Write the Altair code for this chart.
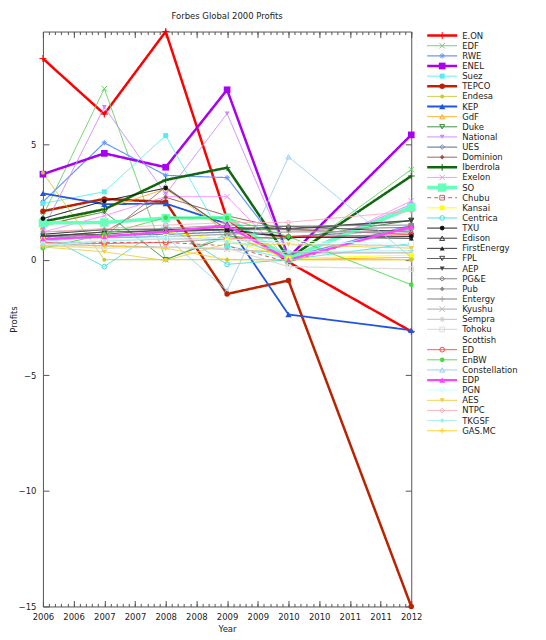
import altair as alt
import pandas as pd

years = [2006, 2007, 2008, 2009, 2010, 2012]

names = ["E.ON", "EDF", "RWE", "ENEL", "Suez", "TEPCO", "Endesa", "KEP", "GdF", "Duke",
         "National", "UES", "Dominion", "Iberdrola", "Exelon", "SO", "Chubu", "Kansai",
         "Centrica", "TXU", "Edison", "FirstEnergy", "FPL", "AEP", "PG&E", "Pub", "Entergy",
         "Kyushu", "Sempra", "Tohoku", "Scottish", "ED", "EnBW", "Constellation", "EDP",
         "PGN", "AES", "NTPC", "TKGSF", "GAS.MC"]

# profits per company, one value per year above
e_on = [8.7, 6.3, 9.87, 1.75, -0.1, -3.1]
edf = [1.9, 7.4, 0.0, 1.1, 0.05, 3.9]
rwe = [2.5, 5.06, 3.65, 3.55, 0.1, 1.5]
enel = [3.7, 4.6, 4.0, 7.35, 0.1, 5.4]
suez = [2.43, 2.94, 5.37, 0.6, 0.05, 2.18]
tepco = [2.1, 2.63, 2.5, -1.48, -0.9, -15.0]
endesa = [3.76, 0.0, 0.0, 0.0, 0.0, 0.0]
kep = [2.87, 2.4, 2.43, 1.55, -2.37, -3.05]
gdf = [1.42, 2.2, 3.06, 1.2, 0.0, 0.1]
duke = [1.5, 2.07, 0.0, 1.0, 0.9, 1.7]
national = [1.3, 6.6, 2.84, 6.32, 0.1, 2.4]
ues = [1.0, 1.05, 1.1, 1.2, 1.0, 1.3]
dominion = [1.0, 1.2, 2.7, 1.9, 1.3, 1.1]
iberdrola = [1.65, 2.18, 3.45, 3.98, 0.05, 3.62]
exelon = [1.2, 1.9, 2.73, 2.73, 0.0, 2.54]
so = [1.59, 1.61, 1.8, 1.82, 0.05, 2.28]
chubu = [0.7, 0.75, 0.75, 0.6, -0.1, 1.47]
kansai = [0.9, 1.0, 1.2, 0.86, 0.05, 0.2]
centrica = [1.1, -0.3, 1.5, -0.2, 0.0, 0.7]
txu = [1.78, 2.54, 3.1, 1.3, 0.96, 1.0]
edison = [1.0, 1.2, 1.25, 1.3, 1.45, 1.2]
firstenergy = [1.1, 1.3, 1.3, 1.3, 1.0, 0.92]
fpl = [0.9, 1.0, 1.2, 1.3, 1.35, 1.7]
aep = [1.05, 1.1, 1.3, 1.4, 1.32, 1.68]
pge = [0.85, 1.0, 3.15, 1.3, 1.3, 1.4]
pub = [1.2, 1.3, 1.35, 1.5, 1.45, 1.5]
entergy = [0.9, 0.95, 1.0, 1.1, 1.2, 1.2]
kyushu = [0.7, 0.6, 0.55, 0.45, 0.3, 0.3]
sempra = [0.8, 0.85, 0.9, 0.9, 0.7, 0.6]
tohoku = [0.6, 0.5, 0.55, 0.5, -0.3, -0.4]
scottish = [0.8, 0.85, 0.9, 0.8, 0.7, 0.7]
ed = [0.75, 0.7, 0.75, 0.9, 1.0, 1.08]
enbw = [0.5, 1.1, 1.82, 1.8, 1.0, -1.08]
constellation = [0.8, 1.0, 1.0, -1.34, 4.45, 0.1]
edp = [0.9, 1.0, 1.22, 1.47, 0.0, 1.42]
pgn = [0.6, 0.8, 1.0, 0.9, 0.8, 0.7]
aes = [0.55, 0.34, -0.04, 0.7, 0.65, 0.5]
ntpc = [1.2, 1.35, 1.5, 1.6, 1.62, 2.1]
tkgsf = [0.7, 0.8, 0.9, 0.8, 0.35, 0.39]
gas_mc = [0.6, 0.6, 0.5, 0.0, 0.0, 0.0]

series_values = [e_on, edf, rwe, enel, suez, tepco, endesa, kep, gdf, duke, national, ues,
                 dominion, iberdrola, exelon, so, chubu, kansai, centrica, txu, edison,
                 firstenergy, fpl, aep, pge, pub, entergy, kyushu, sempra, tohoku, scottish,
                 ed, enbw, constellation, edp, pgn, aes, ntpc, tkgsf, gas_mc]

# ---- styles ----
colors = ["#ff0000", "#66cc66", "#6699ff", "#a800f0", "#55eeee", "#bb2200", "#c8c830",
          "#2255dd", "#ffaa22", "#338833", "#cc88ff", "#7788aa", "#995555", "#116611",
          "#ff88ff", "#66ffbb", "#bb6666", "#ffff00", "#44dddd", "#111111", "#333333",
          "#222222", "#444444", "#444444", "#777777", "#888888", "#aaaaaa", "#bbbbbb",
          "#cccccc", "#dddddd", "#ffffff", "#ff4444", "#44dd44", "#99ccee", "#ff44ff",
          "#ccffff", "#eecc44", "#ffaabb", "#99eeee", "#ffcc22"]
PLUS = "M-1,0H1M0,-1V1"
CROSS = "M-1,-1L1,1M-1,1L1,-1"
STAR = "M-1,0H1M0,-1V1M-0.7,-0.7L0.7,0.7M-0.7,0.7L0.7,-0.7"
shapes = [PLUS, CROSS, STAR, "square", "square", "circle", "circle", "triangle-up",
          "triangle-up", "triangle-down", "triangle-down", "diamond", "diamond", PLUS,
          CROSS, "square", "square", "square", "circle", "circle", "triangle-up",
          "triangle-up", "triangle-down", "triangle-down", "diamond", "diamond", PLUS,
          CROSS, STAR, "square", "square", "circle", "circle", "triangle-up",
          "triangle-up", "triangle-down", "triangle-down", "diamond", "diamond", PLUS]
filled = ["n", "n", "n", "y", "y", "y", "y", "y", "n", "n", "y", "n", "y", "n", "n", "y",
          "n", "y", "n", "y", "n", "y", "n", "y", "n", "y", "n", "n", "n", "n", "y", "n",
          "y", "n", "y", "n", "y", "n", "y", "n"]
sizes = [50, 30, 30, 45, 25, 30, 16, 40, 25, 25, 25, 22, 22, 45, 30, 70, 22, 22, 22, 22,
         25, 25, 25, 25, 22, 22, 30, 30, 30, 22, 22, 22, 22, 25, 35, 25, 25, 22, 22, 30]
widths = [2.5, 1, 1.2, 2.5, 1, 2.5, 1, 1.8, 1, 1, 1, 1.3, 1, 2.5, 1, 3.5, 1, 1, 1, 1, 1,
          1, 1, 1, 1, 1, 1.3, 1.3, 1.3, 1.3, 1, 1, 1, 1, 2.2, 1, 1, 1, 1, 1]
dashes = [[1, 0]] * 40
dashes[names.index("Chubu")] = [4, 3]

rows = []
for i, nm in enumerate(names):
    for yr, v in zip(years, series_values[i]):
        rows.append({"name": nm, "year": yr, "profit": v, "fill": filled[i],
                     "sw": widths[i], "sz": sizes[i]})
df = pd.DataFrame(rows)
leg_df = pd.DataFrame({"name": names, "fill": filled, "sw": widths, "sz": sizes})

W, H = 369, 576
FONT = "DejaVu Sans"
FS = 8.5
TXT = "#222222"
FRAME = "#555555"

major_x = [2006 + 0.5 * k for k in range(13)]
minor_x = [round(2006 + 0.1 * k, 1) for k in range(61)]
major_y = [-15, -10, -5, 0, 5]

xs = alt.Scale(domain=[2006, 2012], nice=False, zero=False)
ys = alt.Scale(domain=[-15, 9.87], nice=False, zero=False)
color_s = alt.Scale(domain=names, range=colors)
shape_s = alt.Scale(domain=names, range=shapes)
dash_s = alt.Scale(domain=names, range=dashes)

base = alt.Chart(df)

lines = base.mark_line(clip=False).encode(
    x=alt.X("year:Q", scale=xs, axis=alt.Axis(
        values=major_x, labelExpr="'' + floor(datum.value)", ticks=False, tickSize=0,
        domain=True, grid=False, labelFlush=False, labelOverlap=False, labelPadding=6,
        title="Year", titlePadding=4)),
    y=alt.Y("profit:Q", scale=ys, axis=alt.Axis(
        values=major_y, ticks=False, tickSize=0, domain=True, grid=False,
        labelPadding=7, title="Profits", titlePadding=0)),
    color=alt.Color("name:N", scale=color_s, legend=None),
    strokeWidth=alt.StrokeWidth("sw:Q", scale=None),
    strokeDash=alt.StrokeDash("name:N", scale=dash_s, legend=None),
    detail="name:N",
    order=alt.Order("year:Q"),
)

pts_open = base.transform_filter("datum.fill == 'n'").mark_point(
    filled=False, opacity=1, strokeWidth=1, clip=False).encode(
    x=alt.X("year:Q", scale=xs, axis=alt.Axis(
        orient="bottom", offset=-H, values=major_x, labels=False, tickSize=6,
        domain=True, grid=False, title=None)),
    y=alt.Y("profit:Q", scale=ys, axis=alt.Axis(
        orient="left", offset=-W, values=major_y, labels=False, tickSize=6,
        domain=True, grid=False, title=None)),
    color=alt.Color("name:N", scale=color_s, legend=None),
    shape=alt.Shape("name:N", scale=shape_s, legend=None),
    size=alt.Size("sz:Q", scale=None),
)

pts_fill = base.transform_filter("datum.fill == 'y'").mark_point(
    filled=True, opacity=1, clip=False).encode(
    x=alt.X("year:Q", scale=xs, axis=alt.Axis(
        orient="top", offset=-H, values=major_x, labels=False, tickSize=6,
        domain=False, grid=False, title=None)),
    y=alt.Y("profit:Q", scale=ys, axis=alt.Axis(
        orient="right", offset=-W, values=major_y, labels=False, tickSize=6,
        domain=False, grid=False, title=None)),
    color=alt.Color("name:N", scale=color_s, legend=None),
    shape=alt.Shape("name:N", scale=shape_s, legend=None),
    size=alt.Size("sz:Q", scale=None),
)

minor_bottom = base.mark_point(opacity=0).encode(
    x=alt.X("year:Q", scale=xs, axis=alt.Axis(
        orient="top", offset=-H, values=minor_x, labels=False, tickSize=3,
        domain=False, grid=False, title=None)),
    y=alt.Y("profit:Q", scale=ys, axis=None),
)
minor_top = base.mark_point(opacity=0).encode(
    x=alt.X("year:Q", scale=xs, axis=alt.Axis(
        orient="bottom", offset=-H, values=minor_x, labels=False, tickSize=3,
        domain=False, grid=False, title=None)),
    y=alt.Y("profit:Q", scale=ys, axis=None),
)

main = alt.layer(lines, pts_open, pts_fill, minor_bottom, minor_top).resolve_axis(
    x="independent", y="independent"
).properties(
    width=W, height=H,
    title=alt.TitleParams("Forbes Global 2000 Profits", fontSize=FS, fontWeight="normal",
                          font=FONT, color=TXT, anchor="middle", offset=6),
)

# ---- legend panel ----
LW, LH = 110, 404
lx = alt.Scale(domain=[0, LW], nice=False, zero=False)
ly = alt.Y("name:N", scale=alt.Scale(type="point", domain=names, padding=0.4), axis=None)
lbase = alt.Chart(leg_df)

leg_line = lbase.mark_rule().encode(
    x=alt.XDatum(0, type="quantitative", scale=lx, axis=None),
    x2=alt.X2Datum(30),
    y=ly,
    color=alt.Color("name:N", scale=color_s, legend=None),
    strokeWidth=alt.StrokeWidth("sw:Q", scale=None),
    strokeDash=alt.StrokeDash("name:N", scale=dash_s, legend=None),
)
leg_open = lbase.transform_filter("datum.fill == 'n'").mark_point(
    filled=False, opacity=1, strokeWidth=1).encode(
    x=alt.XDatum(15, type="quantitative", scale=lx, axis=None),
    y=ly,
    color=alt.Color("name:N", scale=color_s, legend=None),
    shape=alt.Shape("name:N", scale=shape_s, legend=None),
    size=alt.Size("sz:Q", scale=None),
)
leg_fill = lbase.transform_filter("datum.fill == 'y'").mark_point(
    filled=True, opacity=1).encode(
    x=alt.XDatum(15, type="quantitative", scale=lx, axis=None),
    y=ly,
    color=alt.Color("name:N", scale=color_s, legend=None),
    shape=alt.Shape("name:N", scale=shape_s, legend=None),
    size=alt.Size("sz:Q", scale=None),
)
leg_text = lbase.mark_text(align="left", baseline="middle", font=FONT, fontSize=FS,
                           color=TXT).encode(
    x=alt.XDatum(35, type="quantitative", scale=lx, axis=None),
    y=ly,
    text="name:N",
)
legend = alt.layer(leg_line, leg_open, leg_fill, leg_text).properties(width=LW, height=LH)

chart = alt.hconcat(main, legend, spacing=16, bounds="flush").configure(
    padding={"left": 0, "top": 2, "right": 0, "bottom": 0},
    font=FONT,
).configure_view(
    stroke="transparent"
).configure_axis(
    labelFont=FONT, labelFontSize=FS, labelColor=TXT,
    titleFont=FONT, titleFontSize=FS, titleFontWeight="normal", titleColor=TXT,
    tickColor=FRAME, domainColor=FRAME, tickWidth=1, domainWidth=1,
)

chart.save("out.html", embed_options={"renderer": "svg", "actions": False})
